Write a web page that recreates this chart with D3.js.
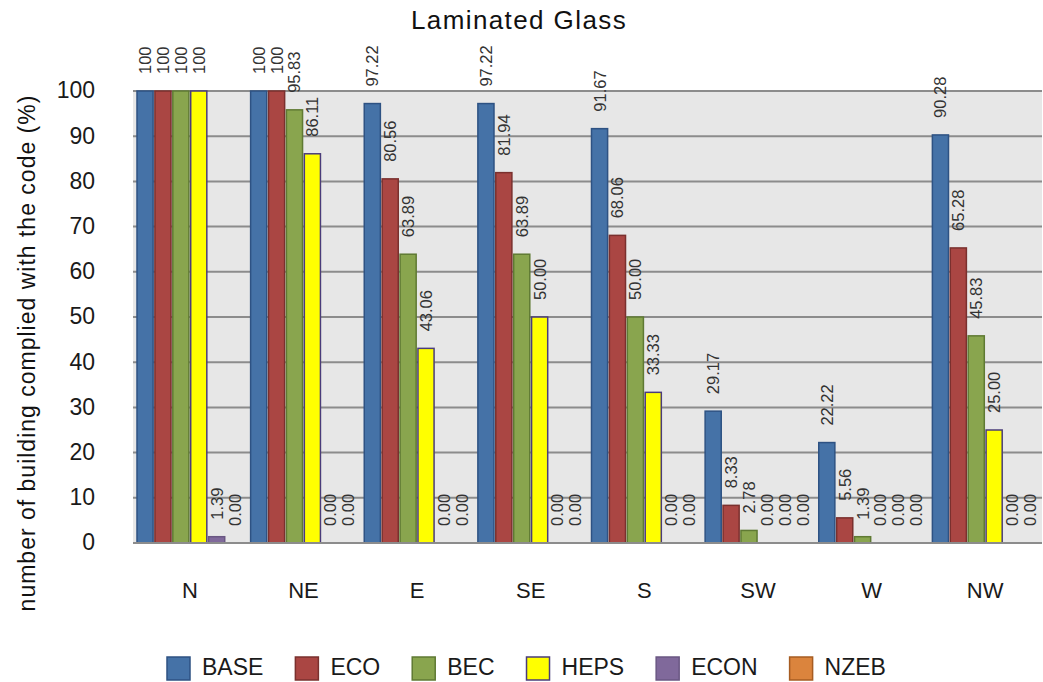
<!DOCTYPE html>
<html>
<head>
<meta charset="utf-8">
<script src="https://cdn.jsdelivr.net/npm/d3@7"></script>
<style>
  html, body { margin: 0; padding: 0; background: #fff; }
  svg { display: block; font-family: "Liberation Sans", Arial, sans-serif; }
</style>
</head>
<body>
<svg id="chart" width="1043" height="682"></svg>
<script>
// Orientations along the x axis
const categories = ["N", "NE", "E", "SE", "S", "SW", "W", "NW"];
const seriesNames = ["BASE", "ECO", "BEC", "HEPS", "ECON", "NZEB"];

// Share of buildings complying with each code (%)
const BASE = [100, 100, 97.22, 97.22, 91.67, 29.17, 22.22, 90.28];
const ECO  = [100, 100, 80.56, 81.94, 68.06, 8.33, 5.56, 65.28];
const BEC  = [100, 95.83, 63.89, 63.89, 50.00, 2.78, 1.39, 45.83];
const HEPS = [100, 86.11, 43.06, 50.00, 33.33, 0.00, 0.00, 25.00];
const ECON = [1.39, 0.00, 0.00, 0.00, 0.00, 0.00, 0.00, 0.00];
const NZEB = [0.00, 0.00, 0.00, 0.00, 0.00, 0.00, 0.00, 0.00];

const yTicks = [0, 10, 20, 30, 40, 50, 60, 70, 80, 90, 100];

const seriesValues = { BASE, ECO, BEC, HEPS, ECON, NZEB };

const fills   = { BASE: "#4572A7", ECO: "#AA4643", BEC: "#89A54E", HEPS: "#FFFF00", ECON: "#80699B", NZEB: "#DB843D" };
const strokes = { BASE: "#2E5283", ECO: "#7A302E", BEC: "#5F7A33", HEPS: "#4A3C7A", ECON: "#6A5783", NZEB: "#A65C22" };

const textColor = "#1a1a1a";
const svg = d3.select("#chart");
const plot = { left: 133, right: 1042, top: 91, bottom: 543 };

const x0 = d3.scaleBand().domain(categories).range([plot.left, plot.right]).paddingInner(0).paddingOuter(0);
const x1 = d3.scaleBand().domain(seriesNames).range([4, x0.bandwidth() - 4]).paddingInner(0.1);
const y = d3.scaleLinear().domain([0, 100]).range([plot.bottom, plot.top]);

// plot background
svg.append("rect")
  .attr("x", plot.left).attr("y", plot.top)
  .attr("width", plot.right - plot.left).attr("height", plot.bottom - plot.top)
  .attr("fill", "#E7E7E7");

// horizontal grid lines
svg.append("g")
  .selectAll("line")
  .data(yTicks)
  .join("line")
  .attr("x1", plot.left).attr("x2", plot.right)
  .attr("y1", d => y(d)).attr("y2", d => y(d))
  .attr("stroke", "#8C8C8C").attr("stroke-width", 2);

// y axis tick labels
const yAxis = d3.axisLeft(y).tickValues(yTicks).tickSize(0).tickPadding(38);
svg.append("g")
  .attr("transform", `translate(${plot.left},0)`)
  .call(yAxis)
  .call(g => g.select(".domain").remove())
  .call(g => g.selectAll("text")
    .attr("font-size", 23)
    .attr("font-family", null)
    .attr("dy", "0.3em")
    .attr("fill", textColor));

// x axis category labels
const xAxis = d3.axisBottom(x0).tickSize(0).tickPadding(39);
svg.append("g")
  .attr("transform", `translate(0,${plot.bottom})`)
  .call(xAxis)
  .call(g => g.select(".domain").remove())
  .call(g => g.selectAll("text")
    .attr("font-size", 22)
    .attr("font-family", null)
    .attr("fill", textColor));

// bars grouped by orientation
const groups = svg.append("g")
  .selectAll("g")
  .data(categories)
  .join("g")
  .attr("transform", d => `translate(${x0(d)},0)`);

const cells = groups.selectAll("g")
  .data((c, i) => seriesNames.map(s => ({ s, v: seriesValues[s][i] })))
  .join("g");

cells.filter(d => d.v > 0)
  .append("rect")
  .attr("x", d => x1(d.s))
  .attr("y", d => y(d.v))
  .attr("width", x1.bandwidth())
  .attr("height", d => y(0) - y(d.v))
  .attr("fill", d => fills[d.s])
  .attr("stroke", d => strokes[d.s])
  .attr("stroke-width", 1.5);

// value labels, rotated, above each bar
const fmt = v => v === 100 ? "100" : v.toFixed(2);
cells.append("text")
  .attr("transform", d => `translate(${x1(d.s) + x1.bandwidth() / 2},${y(d.v) - 17}) rotate(-90)`)
  .attr("dy", "0.36em")
  .attr("text-anchor", "start")
  .attr("font-size", 16.5)
  .attr("fill", "#333")
  .text(d => fmt(d.v));

// x axis baseline
svg.append("line")
  .attr("x1", plot.left).attr("x2", plot.right)
  .attr("y1", plot.bottom).attr("y2", plot.bottom)
  .attr("stroke", "#8C8C8C").attr("stroke-width", 2);

// chart title
svg.append("text")
  .attr("x", 519).attr("y", 29)
  .attr("text-anchor", "middle")
  .attr("font-size", 26)
  .attr("letter-spacing", 1.4)
  .attr("fill", "#111")
  .text("Laminated Glass");

// y axis title
svg.append("text")
  .attr("transform", `translate(35,353) rotate(-90)`)
  .attr("text-anchor", "middle")
  .attr("font-size", 23)
  .attr("letter-spacing", 1)
  .attr("fill", "#111")
  .text("number of building complied with the code (%)");

// legend, laid out left to right
const legend = svg.append("g").attr("transform", "translate(167,657)");
let cursor = 0;
seriesNames.forEach(name => {
  const item = legend.append("g").attr("transform", `translate(${cursor},0)`);
  item.append("rect")
    .attr("width", 23).attr("height", 23)
    .attr("fill", fills[name])
    .attr("stroke", strokes[name])
    .attr("stroke-width", 1.5);
  const label = item.append("text")
    .attr("x", 35).attr("y", 18)
    .attr("font-size", 23)
    .attr("fill", textColor)
    .text(name);
  cursor += 35 + label.node().getComputedTextLength() + 32;
});
</script>
</body>
</html>
